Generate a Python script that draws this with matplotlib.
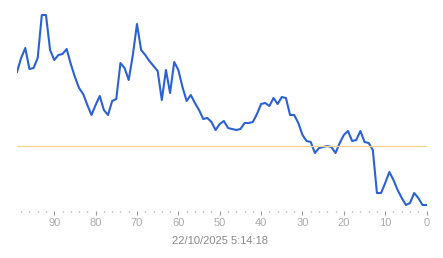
import numpy as np
import matplotlib.pyplot as plt
from matplotlib.ticker import MultipleLocator

# samples ago (99 .. 0) and the value read at each one
samples_ago = list(range(99, -1, -1))
values = [148, 162, 172, 151, 152, 162, 205, 205, 170, 160,
          165, 166, 171, 156, 143, 132, 126, 115, 105, 115,
          124, 110, 105, 119, 121, 157, 152, 140, 165, 196,
          170, 165, 159, 154, 149, 120, 150, 127, 158, 150,
          133, 119, 125, 117, 110, 101, 102, 98, 90, 96,
          99, 92, 91, 90, 91, 97, 97, 98, 106, 116,
          117, 114, 122, 116, 123, 122, 105, 105, 97, 85,
          79, 78, 67, 72, 73, 74, 73, 67, 77, 85,
          89, 79, 80, 89, 78, 77, 70, 27, 27, 37,
          48, 40, 30, 22, 15, 17, 27, 22, 15, 15]
reference = 74
timestamp = "22/10/2025 5:14:18"

fig = plt.figure(figsize=(4.43, 2.58), dpi=100)
ax = fig.add_axes([17 / 443, 1 - 211 / 258, 410 / 443, 201 / 258])

ax.plot(samples_ago, values, color='#2a60d8', linewidth=1.5)
ax.axhline(reference, xmin=0, xmax=1, color='#f2d48a', linewidth=0.9)

ax.set_xlim(99, -0.1)
ax.set_ylim(9, 210)

for s in ax.spines.values():
    s.set_visible(False)
ax.set_yticks([])
ax.xaxis.set_major_locator(MultipleLocator(10))
ax.xaxis.set_minor_locator(MultipleLocator(2))
ax.tick_params(axis='x', which='major', length=3, width=0.8, color='#999999',
               labelsize=8, labelcolor='#aaaaaa', pad=2)
ax.tick_params(axis='x', which='minor', length=1, width=1, color='#999999')
for lab in ax.get_xticklabels():
    lab.set_family('Liberation Sans')

fig.text(220 / 443, 1 - 241 / 258, timestamp, ha='center', va='center',
         fontsize=8, color='#888888', family='Liberation Sans')

fig.savefig('out.png', dpi=100)
